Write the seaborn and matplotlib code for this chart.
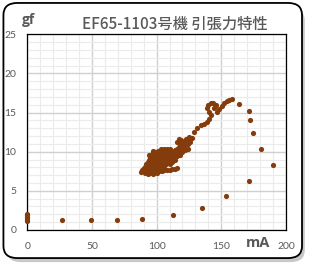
import matplotlib
matplotlib.use("Agg")
import matplotlib.pyplot as plt
from matplotlib.patches import FancyBboxPatch
from matplotlib.ticker import MultipleLocator
import seaborn as sns
import pandas as pd

# ---- data (current mA, pull force gf) ----
cur_core = [88, 89, 90, 90, 91, 91, 92, 92, 92, 93, 93, 93, 93, 94, 94, 94, 94,
            95, 95, 95, 95, 95, 96, 96, 96, 96, 96, 97, 97, 97, 97, 97, 97,
            98, 98, 98, 98, 98, 99, 99, 99, 99, 99, 99, 100, 100, 100, 100, 100,
            101, 101, 101, 101, 101, 101, 102, 102, 102, 102, 102, 103, 103, 103, 103, 103,
            104, 104, 104, 104, 104, 105, 105, 105, 105, 106, 106, 106, 106,
            107, 107, 107, 107, 108, 108, 108, 109, 109, 109, 110, 110, 110,
            111, 111, 112, 112, 113, 113, 114, 114, 115, 116, 117, 117, 118, 119, 119,
            120, 121, 121, 122, 123, 123, 124, 125, 125, 126, 127, 116, 117, 118, 119,
            104, 106, 108, 110, 112, 114, 116, 106, 106, 108, 110,
            120, 122, 124, 118, 116, 114, 112, 110, 97, 100, 102, 94, 97, 103]
gf_core = [7.4, 7.7, 7.5, 7.9, 7.3, 8.1, 7.6, 8.0, 8.4, 7.2, 7.8, 8.2, 8.7, 7.5, 8.0, 8.5, 9.0,
           7.3, 7.7, 8.3, 8.8, 9.3, 7.6, 8.1, 8.6, 9.1, 9.6, 7.4, 7.9, 8.4, 8.9, 9.4, 9.9,
           7.7, 8.2, 8.7, 9.2, 9.7, 7.5, 8.0, 8.5, 9.0, 9.5, 10.0, 7.8, 8.3, 8.8, 9.3, 9.8,
           7.6, 8.1, 8.6, 9.1, 9.6, 10.1, 7.9, 8.4, 8.9, 9.4, 9.9, 8.2, 8.7, 9.2, 9.7, 10.2,
           8.0, 8.5, 9.0, 9.5, 10.0, 8.3, 8.8, 9.3, 9.8, 8.6, 9.1, 9.6, 10.1,
           8.4, 8.9, 9.4, 9.9, 8.7, 9.2, 9.7, 9.0, 9.5, 10.0, 8.9, 9.4, 9.8,
           9.2, 9.7, 9.5, 10.0, 9.3, 9.8, 9.6, 10.2, 9.9, 10.3, 10.0, 10.6, 10.4, 10.8, 10.2,
           11.0, 10.5, 11.3, 10.8, 11.1, 11.6, 11.0, 11.4, 11.9, 11.3, 11.7, 11.3, 11.6, 11.0, 11.5,
           7.5, 7.6, 7.6, 7.7, 7.8, 7.8, 7.9, 7.9, 10.3, 10.3, 10.4,
           10.0, 10.2, 10.4, 9.6, 9.4, 9.0, 8.7, 8.4, 7.1, 7.3, 7.5, 9.6, 10.1, 10.4]

cur_trail = [128.9, 131.5, 134.2, 136.7, 139.2, 140.5, 141.8, 140.5, 139.2, 140.0,
             141.8, 143.5, 145.7, 144.5, 146.9, 148.2, 150.7, 152.1, 154.6, 156.0,
             158.0, 164.0, 171.7, 171.9, 174.5, 180.9, 190.0, 171.5, 153.4, 135.0,
             112.4, 88.7, 69.3, 49.1, 26.7, 0, 0, 0, 0, 0, 0]
gf_trail = [12.5, 13.0, 13.4, 13.6, 13.8, 14.2, 14.7, 15.1, 15.6, 16.0,
            16.2, 16.2, 16.0, 15.6, 15.1, 15.4, 15.9, 16.2, 16.5, 16.6,
            16.7, 16.1, 15.2, 14.0, 12.4, 10.4, 8.3, 6.2, 4.3, 2.8,
            1.95, 1.45, 1.3, 1.3, 1.3, 1.1, 1.3, 1.5, 1.7, 1.9, 2.1]

x_ticks = [0, 50, 100, 150, 200]
y_ticks = [0, 5, 10, 15, 20, 25]
title = "EF65-1103号機 引張力特性"
x_unit = "mA"
y_unit = "gf"

df = pd.DataFrame({"mA": cur_core + cur_trail, "gf": gf_core + gf_trail})

sns.set_theme(style="white")
plt.rcParams["font.family"] = ["Noto Sans CJK JP", "DejaVu Sans"]

fig = plt.figure(figsize=(3.12, 2.68), dpi=100)
fig.patch.set_facecolor("white")

# outer rounded frame with soft shadow
shadow = FancyBboxPatch((0.022, 0.022), 0.955, 0.945,
                        boxstyle="round,pad=0,rounding_size=0.045",
                        transform=fig.transFigure, facecolor="#c8c8c8",
                        edgecolor="none", zorder=-2)
frame = FancyBboxPatch((0.011, 0.037), 0.957, 0.952,
                       boxstyle="round,pad=0,rounding_size=0.045",
                       transform=fig.transFigure, facecolor="white",
                       edgecolor="black", linewidth=1.3, zorder=-1)
fig.patches.extend([shadow, frame])

ax = fig.add_axes([0.0875, 0.142, 0.829, 0.730])
ax.set_zorder(1)
ax.set_facecolor("white")
sns.scatterplot(data=df, x="mA", y="gf", ax=ax, color="#843C0C",
                s=14, linewidth=0, legend=False, zorder=3, clip_on=False)

ax.set_xlim(0, 200)
ax.set_ylim(0, 25)
ax.set_xticks(x_ticks)
ax.set_yticks(y_ticks)
ax.xaxis.set_minor_locator(MultipleLocator(10))
ax.yaxis.set_minor_locator(MultipleLocator(1))
ax.grid(which="major", color="#d0d0d0", linewidth=1.0, zorder=0)
ax.grid(which="minor", color="#ebebeb", linewidth=0.8, zorder=0)
ax.set_axisbelow(True)
ax.tick_params(which="both", length=0)
ax.tick_params(axis="x", pad=9, labelsize=7.5, labelcolor="#595959")
ax.tick_params(axis="y", pad=8, labelsize=7.5, labelcolor="#595959")
for lab in ax.get_xticklabels() + ax.get_yticklabels():
    lab.set_family(["Lato", "DejaVu Sans"])
for sp in ax.spines.values():
    sp.set_visible(True)
    sp.set_color("black")
    sp.set_linewidth(0.9)
ax.set_xlabel("")
ax.set_ylabel("")

fig.text(0.560, 0.910, title, ha="center", va="center", fontsize=11,
         color="#595959", fontweight="medium", zorder=2)
fig.text(0.090, 0.925, y_unit, ha="center", va="center", fontsize=10,
         color="#595959", fontweight="bold", family=["Open Sans", "DejaVu Sans"], zorder=2)
fig.text(0.826, 0.092, x_unit, ha="center", va="center", fontsize=10.5,
         color="#595959", fontweight="bold", family=["Open Sans", "DejaVu Sans"], zorder=2)

fig.savefig("out.png", dpi=100, facecolor="white")
